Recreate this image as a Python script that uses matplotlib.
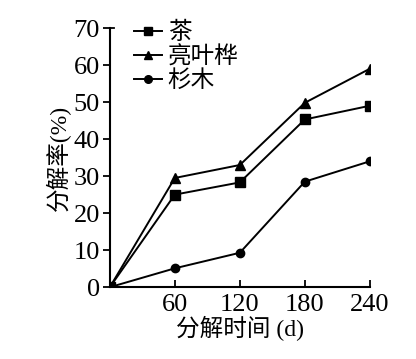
import matplotlib
matplotlib.use('Agg')
import matplotlib.pyplot as plt

days = [0, 60, 120, 180, 240]
tea = [0, 25, 28.3, 45.3, 49]
birch = [0, 29.5, 33, 49.8, 59]
fir = [0, 5.1, 9.3, 28.5, 34]
labels = ['茶', '亮叶桦', '杉木']

fonts = ['Liberation Serif', 'Noto Sans CJK SC']
plt.rcParams['font.family'] = fonts

fig = plt.figure(figsize=(4.16, 3.59), dpi=100)
ax = fig.add_axes([0.264, 0.200, 0.625, 0.722])

ax.plot(days, tea, 'k-s', lw=1.4, markersize=7.5, label=labels[0])
ax.plot(days, birch, 'k-^', lw=1.4, markersize=7.5, label=labels[1])
ax.plot(days, fir, 'k-o', lw=1.4, markersize=6, label=labels[2])

ax.set_xlim(0, 240)
ax.set_ylim(0, 70)
ax.set_xticks([60, 120, 180, 240])
ax.set_yticks(range(0, 71, 10))
ax.spines['top'].set_visible(False)
ax.spines['right'].set_visible(False)
for s in ['left', 'bottom']:
    ax.spines[s].set_linewidth(1.5)
ax.tick_params(axis='x', direction='in', length=5, width=1.3, labelsize=19, pad=5)
ax.tick_params(axis='y', direction='out', length=5, width=1.3, labelsize=19, pad=2)
# small stub at top of y axis
ax.plot([0, 4], [70, 70], 'k-', lw=1.3, clip_on=False)

ax.set_xlabel('分解时间 (d)', fontsize=17, labelpad=0)
ax.set_ylabel('分解率(%)', fontsize=17, labelpad=2)

leg = ax.legend(loc='upper left', bbox_to_anchor=(0.055, 1.06), frameon=False,
                fontsize=17, handlelength=1.2, handletextpad=0.25,
                labelspacing=0.08, borderaxespad=0)
for h in leg.legend_handles:
    h.set_markersize(5.5)

fig.savefig('out.png', dpi=100)
